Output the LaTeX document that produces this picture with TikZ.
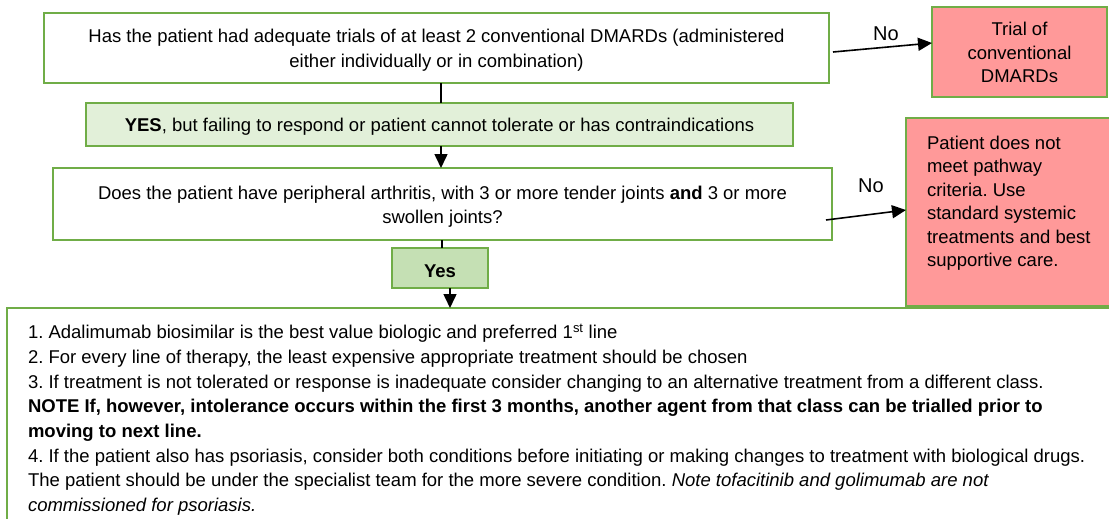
\documentclass[tikz,border=0pt]{standalone}
\usepackage{fontspec}
\setmainfont{Liberation Sans}
\usetikzlibrary{arrows.meta}
\definecolor{boxgreen}{HTML}{70AD47}
\definecolor{yesfill}{HTML}{E2F0D9}
\definecolor{yesdark}{HTML}{C5E0B4}
\definecolor{stopred}{HTML}{FF9999}
\frenchspacing
\begin{document}
\begin{tikzpicture}[x=1pt,y=-1pt,
  every node/.style={inner sep=0pt, outer sep=0pt},
  frame/.style={draw=boxgreen, line width=2.2pt},
  qbox/.style={frame, fill=white},
  stopbox/.style={frame, fill=stopred},
  txt/.style={align=center, font=\fontsize{18.5}{24.5}\selectfont},
  stoptxt/.style={font=\fontsize{18.5}{23.4}\selectfont},
  lbl/.style={font=\fontsize{20}{22}\selectfont},
  flow/.style={line width=1.6pt, black},
  flowarrow/.style={flow, -{Triangle[length=14pt,width=13pt]}},
  ]
\useasboundingbox (0,0) rectangle (1109,519);
\clip (0,0) rectangle (1109,519);

% question 1 and its "no" outcome
\node[qbox, minimum width=785, minimum height=70] (q1) at (436.5,48) {};
\node[txt] (q1text) at ([yshift=-2pt]q1.center)
  {Has the patient had adequate trials of at least 2 conventional DMARDs (administered\\
   either individually or in combination)};
\node[stopbox, minimum width=175, minimum height=90] (trial) at (1019.5,52) {};
\node[stoptxt, align=center] (trialtext) at ([yshift=-0.5pt]trial.center)
  {Trial of\\conventional\\DMARDs};

% answer leading to question 2
\node[frame, fill=yesfill, minimum width=707, minimum height=43] (yes1) at (439.5,124.5) {};
\node[txt] (yes1text) at ([yshift=-2.5pt]yes1.center)
  {\textbf{YES}, but failing to respond or patient cannot tolerate or has contraindications};

% question 2 and its "no" outcome
\node[qbox, minimum width=779, minimum height=72] (q2) at (442.5,204) {};
\node[txt] (q2text) at ([yshift=-2.5pt]q2.center)
  {Does the patient have peripheral arthritis, with 3 or more tender joints \textbf{and} 3 or more\\
   swollen joints?};
\node[stopbox, minimum width=220, minimum height=188, anchor=north west] (nomeet) at (906,118) {};
\node[stoptxt, anchor=north west, align=left] (nomeettext) at (927,136)
  {Patient does not\\meet pathway\\criteria. Use\\standard systemic\\treatments and best\\supportive care.};

% final answer
\node[frame, fill=yesdark, minimum width=96, minimum height=40] (yes2) at (440,268) {};
\node[txt] (yes2text) at ([yshift=-3.5pt]yes2.center) {\textbf{Yes}};

% treatment notes
\node[qbox, anchor=north west, minimum width=1115, minimum height=230] (notes) at (7,308) {};
\node[anchor=north west, align=left, font=\fontsize{18.5}{24.7}\selectfont] (notestext) at (28,324)
  {1. Adalimumab biosimilar is the best value biologic and preferred 1\textsuperscript{st} line\\
   2. For every line of therapy, the least expensive appropriate treatment should be chosen\\
   3. If treatment is not tolerated or response is inadequate consider changing to an alternative treatment from a different class.\\
   \textbf{NOTE If, however, intolerance occurs within the first 3 months, another agent from that class can be trialled prior to}\\
   \textbf{moving to next line.}\\
   4. If the patient also has psoriasis, consider both conditions before initiating or making changes to treatment with biological drugs.\\
   The patient should be under the specialist team for the more severe condition. \textit{Note tofacitinib and golimumab are not}\\
   \textit{commissioned for psoriasis.}};

% connectors
\coordinate (c1) at ([xshift=4.5pt]q1.south);
\draw[flow] (c1) -- (c1 |- yes1.north);
\coordinate (c2) at ([xshift=1.5pt]yes1.south);
\draw[flowarrow] (c2) -- (c2 |- q2.north);
\coordinate (c3) at ([xshift=-0.5pt]q2.south);
\draw[flow] (c3) -- (c3 |- yes2.north);
\coordinate (c4) at ([xshift=10pt]yes2.south);
\draw[flowarrow] (c4) -- (c4 |- notes.north);

\coordinate (n1) at (833,52);
\draw[flowarrow] (n1) -- (trial.west |- 0,43) coordinate (n1end);
\node[lbl] (no1) at (886,33.5) {No};
\coordinate (n2) at (826,220);
\draw[flowarrow] (n2) -- (nomeet.west |- 0,210) coordinate (n2end);
\node[lbl] (no2) at (871,185.5) {No};
\end{tikzpicture}
\end{document}
